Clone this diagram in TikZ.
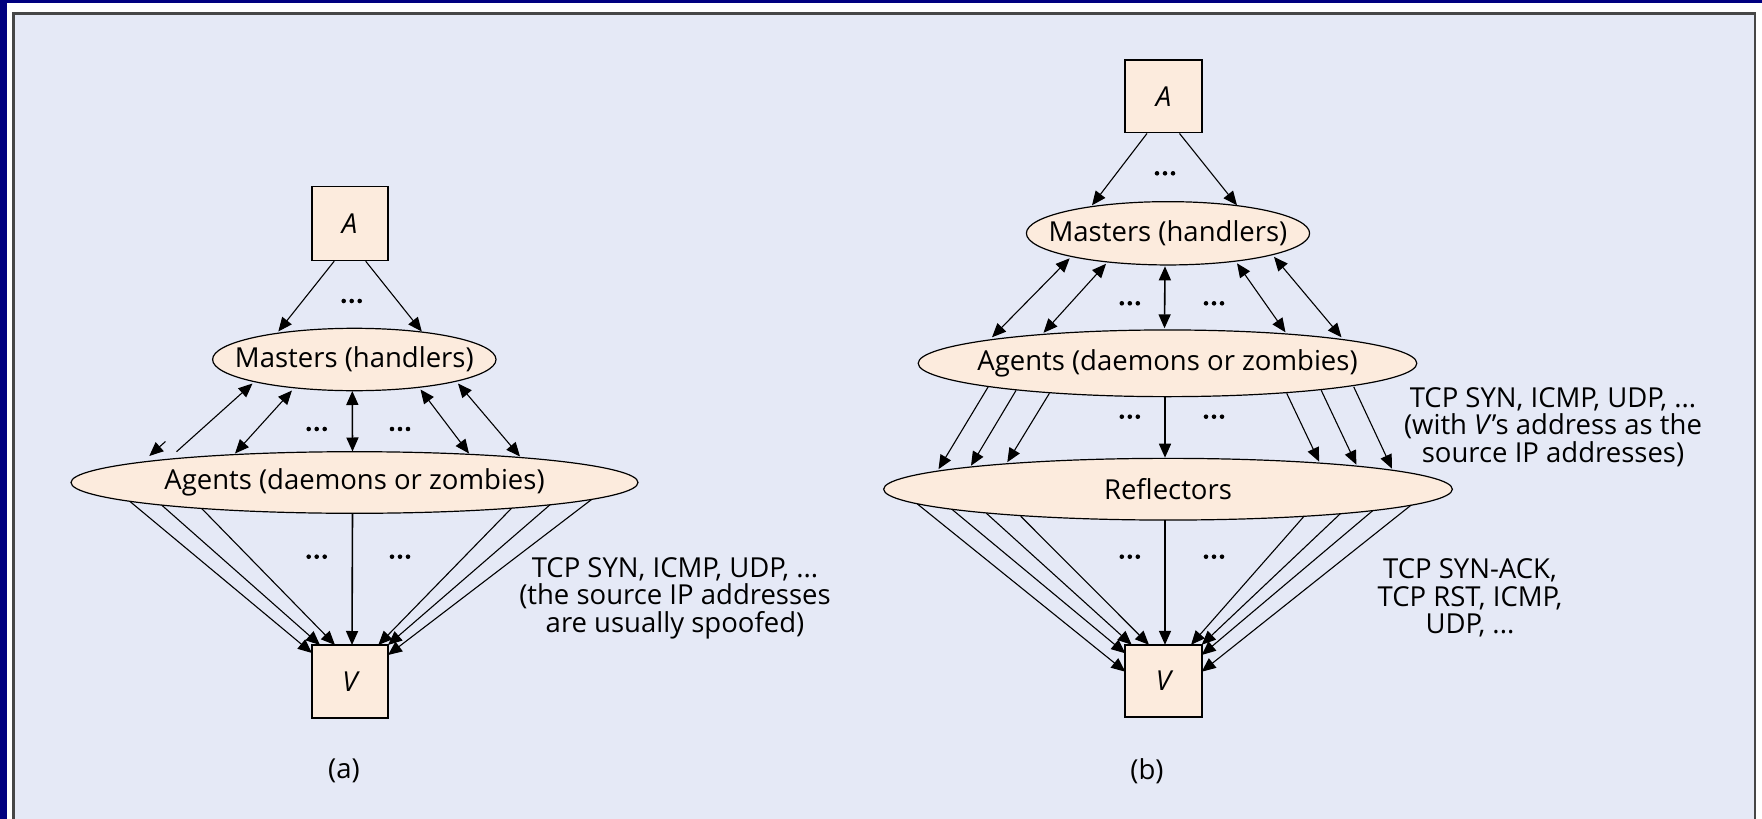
\documentclass[tikz,border=0pt]{standalone}
\usepackage{fontspec}
\setmainfont{Open Sans}
\usetikzlibrary{shapes.geometric,arrows.meta,calc}
\definecolor{navy}{RGB}{0,0,128}
\definecolor{panelbg}{RGB}{229,233,246}
\definecolor{nodefill}{RGB}{252,235,221}
\definecolor{framec}{RGB}{70,70,70}
\begin{document}
\begin{tikzpicture}[x=1pt,y=-1pt,
  every node/.style={font=\fontsize{27.5}{27.5}\selectfont},
  boxn/.style={draw=black,fill=nodefill,line width=1.6pt,minimum width=76pt,minimum height=74pt,inner sep=0pt},
  elln/.style={ellipse,draw=black,fill=nodefill,line width=1.2pt,inner sep=0pt},
  arr/.style={line width=1.1pt,-{Triangle[length=14pt,width=12pt]}},
  darr/.style={line width=1.1pt,{Triangle[length=14pt,width=12pt]}-{Triangle[length=14pt,width=12pt]}},
  tarr/.style={line width=1.1pt,{Triangle[length=14pt,width=12pt]}-},
  mid/.style={line width=1.6pt},
  note/.style={align=center,inner sep=0pt},
  tridots/.pic={\fill (-8,0) circle (2.3) (0,0) circle (2.3) (8,0) circle (2.3);}
]
\useasboundingbox (0,0) rectangle (1762,819);
\fill[navy] (0,0) rectangle (1762,819);
\fill[white] (7,3) rectangle (1762,819);
\fill[panelbg] (13,13) rectangle (1755,819);
\draw[framec,line width=2.5pt] (13.5,819) -- (13.5,13.5) -- (1755,13.5) -- (1755,819);

% ---------- (a) ----------
\node[boxn] (aA) at (349.7,223.4) {\itshape A};
\node[elln,minimum width=283.4pt,minimum height=62.4pt] (aM) at (354.3,359.5) {\makebox[0pt]{Masters (handlers)}};
\node[elln,minimum width=567pt,minimum height=61.6pt] (aG) at (354.5,482.5) {\makebox[0pt]{Agents (daemons or zombies)}};
\node[boxn,minimum height=73pt] (aV) at (350,681.5) {\itshape V};

\draw[arr] ($(aA.south)+(-15.5,0)$) -- ($(aM)+(-76,-28)$);
\draw[arr] ($(aA.south)+(16,0)$) -- ($(aM)+(67.5,-28)$);
\pic at (351.7,301) {tridots};

\draw[tarr] ($(aM)+(-101.8,24)$) -- ($(aG)+(-178,-30.8)$);
\draw[arr] ($(aG)+(-189,-41)$) -- ($(aG)+(-205.2,-26.5)$);
\draw[darr] ($(aM)+(-62.3,31)$) -- ($(aG)+(-119.5,-29)$);
\draw[darr,mid] ($(aM)+(-2,31.5)$) -- ($(aG)+(-2,-31)$);
\draw[darr] ($(aM)+(66.2,30)$) -- ($(aG)+(114.5,-29)$);
\draw[darr] ($(aM)+(103.7,24)$) -- ($(aG)+(165.5,-26)$);
\pic at (316.7,429) {tridots};
\pic at (400,429) {tridots};

\draw[arr] ($(aG)+(-224.5,19)$) -- ($(aV)+(-38,-28.5)$);
\draw[arr] ($(aG)+(-192.8,22.6)$) -- ($(aV)+(-30,-36.5)$);
\draw[arr] ($(aG)+(-152.8,26)$) -- ($(aV)+(-15,-36.5)$);
\draw[arr,mid] ($(aG)+(-2,30.8)$) -- ($(aV)+(2,-36.5)$);
\draw[arr] ($(aG)+(157.2,25.6)$) -- ($(aV)+(28.3,-36.5)$);
\draw[arr] ($(aG)+(195.5,22.3)$) -- ($(aV)+(38,-36.5)$);
\draw[arr] ($(aG)+(237.2,16.9)$) -- ($(aV)+(38,-26.5)$);
\pic at (316.7,556.7) {tridots};
\pic at (400,556.7) {tridots};

\node[note] (ta) at (675,598) {TCP SYN, ICMP, UDP, ...\\(the source IP addresses\\are usually spoofed)};
\node (la) at (344,771) {(a)};

% ---------- (b) ----------
\node[boxn,minimum width=76.5pt,minimum height=72.7pt] (bA) at (1163.5,96.3) {\itshape A};
\node[elln,minimum width=283.2pt,minimum height=63.3pt] (bM) at (1168,233.3) {\makebox[0pt]{Masters (handlers)}};
\node[elln,minimum width=498.6pt,minimum height=66.7pt] (bG) at (1167.5,363.3) {\makebox[0pt]{Agents (daemons or zombies)}};
\node[elln,minimum width=568.7pt,minimum height=61.7pt] (bR) at (1168,489.2) {\makebox[0pt]{Reflectors}};
\node[boxn,minimum width=76.5pt,minimum height=72.3pt] (bV) at (1163.5,681) {\itshape V};

\draw[arr] ($(bA.south)+(-16.5,0)$) -- ($(bM)+(-76,-28)$);
\draw[arr] ($(bA.south)+(16,0)$) -- ($(bM)+(69,-28)$);
\pic at (1165,173.3) {tridots};

\draw[darr] ($(bM)+(-98.3,25)$) -- ($(bG)+(-175.5,-26)$);
\draw[darr] ($(bM)+(-62,30.5)$) -- ($(bG)+(-124,-30.5)$);
\draw[darr,mid] ($(bM)+(-3,33)$) -- ($(bG)+(-3,-35)$);
\draw[darr] ($(bM)+(69,30)$) -- ($(bG)+(118,-31)$);
\draw[darr] ($(bM)+(106,23.5)$) -- ($(bG)+(174,-26)$);
\pic at (1129.8,303.3) {tridots};
\pic at (1214,303.3) {tridots};

\draw[arr] ($(bG)+(-179.3,23.5)$) -- ($(bR)+(-229.5,-20)$);
\draw[arr] ($(bG)+(-151.4,27)$) -- ($(bR)+(-197,-23.5)$);
\draw[arr] ($(bG)+(-118.1,30)$) -- ($(bR)+(-160.7,-27)$);
\draw[arr,mid] ($(bG)+(-2.5,33.3)$) -- ($(bR)+(-3,-31.5)$);
\draw[arr] ($(bG)+(119.2,30)$) -- ($(bR)+(151.2,-27.5)$);
\draw[arr] ($(bG)+(153.7,27)$) -- ($(bR)+(188.4,-24.5)$);
\draw[arr] ($(bG)+(186.2,23.5)$) -- ($(bR)+(224,-20.5)$);
\pic at (1129.8,416.7) {tridots};
\pic at (1214,416.7) {tridots};

\draw[arr] ($(bR)+(-250.6,14.8)$) -- ($(bV)+(-38.2,-9.3)$);
\draw[arr] ($(bR)+(-216.2,20)$) -- ($(bV)+(-38.2,-27.7)$);
\draw[arr] ($(bR)+(-181.7,24)$) -- ($(bV)+(-31.8,-36.2)$);
\draw[arr] ($(bR)+(-147.3,27)$) -- ($(bV)+(-14.5,-36.2)$);
\draw[arr,mid] ($(bR)+(-3,31)$) -- ($(bV)+(1.5,-36.2)$);
\draw[arr] ($(bR)+(136,27.1)$) -- ($(bV)+(27.5,-36.2)$);
\draw[arr] ($(bR)+(172.3,24.5)$) -- ($(bV)+(38.2,-36.2)$);
\draw[arr] ($(bR)+(204.8,21.4)$) -- ($(bV)+(38.2,-26)$);
\draw[arr] ($(bR)+(243,16)$) -- ($(bV)+(38.2,-9.3)$);
\pic at (1129.8,556.7) {tridots};
\pic at (1214,556.7) {tridots};

\node[note] (tb1) at (1553,427) {TCP SYN, ICMP, UDP, ...\\(with \textit{V}'s address as the\\source IP addresses)};
\node[note] (tb2) at (1470,598) {TCP SYN-ACK,\\TCP RST, ICMP,\\UDP, ...};
\node (lb) at (1147,771) {(b)};
\end{tikzpicture}
\end{document}
